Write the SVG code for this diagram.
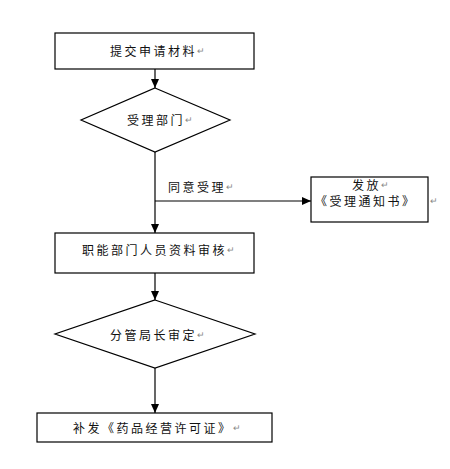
<svg xmlns="http://www.w3.org/2000/svg" width="450" height="469" viewBox="0 0 450 469">
<style>
.box{fill:#fff;stroke:#000;stroke-width:1.2}
.ln{fill:none;stroke:#000;stroke-width:1.2}
text{font-family:"Noto Sans CJK SC","Noto Sans",sans-serif;font-size:12px;fill:#111;letter-spacing:2.5px;dominant-baseline:central}
.pm{fill:#888;font-size:9px;letter-spacing:0}
</style>
<defs>
<marker id="ah" markerWidth="10" markerHeight="10" refX="9" refY="5" orient="auto" markerUnits="userSpaceOnUse">
<path d="M0,1 L9,5 L0,9 Z" fill="#000"/>
</marker>
</defs>
<rect width="450" height="469" fill="#fff"/>
<g id="connectors">
<line class="ln" x1="155" y1="69" x2="155" y2="88" marker-end="url(#ah)"/>
<line class="ln" x1="155" y1="152" x2="155" y2="233" marker-end="url(#ah)"/>
<line class="ln" x1="155" y1="201" x2="311" y2="201" marker-end="url(#ah)"/>
<line class="ln" x1="155" y1="273" x2="155" y2="300" marker-end="url(#ah)"/>
<line class="ln" x1="155" y1="368" x2="155" y2="413" marker-end="url(#ah)"/>
<text x="168" y="186">同意受理<tspan class="pm">↵</tspan></text>
</g>
<g id="n1">
<rect class="box" x="55" y="33" width="199" height="36"/>
<text x="110" y="50">提交申请材料<tspan class="pm">↵</tspan></text>
</g>
<g id="n2">
<polygon class="box" points="155,88 230,120 155,152 81,120"/>
<text x="127" y="119">受理部门<tspan class="pm">↵</tspan></text>
</g>
<g id="n3">
<rect class="box" x="311" y="177" width="117" height="45"/>
<text x="352" y="184" font-size="11.5">发放<tspan class="pm">↵</tspan></text>
<text x="315" y="200" font-size="11.5" letter-spacing="3.3">《受理通知书》</text>
<text x="430" y="200" class="pm">↵</text>
</g>
<g id="n4">
<rect class="box" x="55" y="233" width="199" height="40"/>
<text x="82" y="249">职能部门人员资料审核<tspan class="pm">↵</tspan></text>
</g>
<g id="n5">
<polygon class="box" points="155,300 255,334 155,368 55,334"/>
<text x="110" y="334">分管局长审定<tspan class="pm">↵</tspan></text>
</g>
<g id="n6">
<rect class="box" x="37" y="413" width="235" height="29"/>
<text x="73" y="427" letter-spacing="3">补发《药品经营许可证》<tspan class="pm">↵</tspan></text>
</g>
</svg>
